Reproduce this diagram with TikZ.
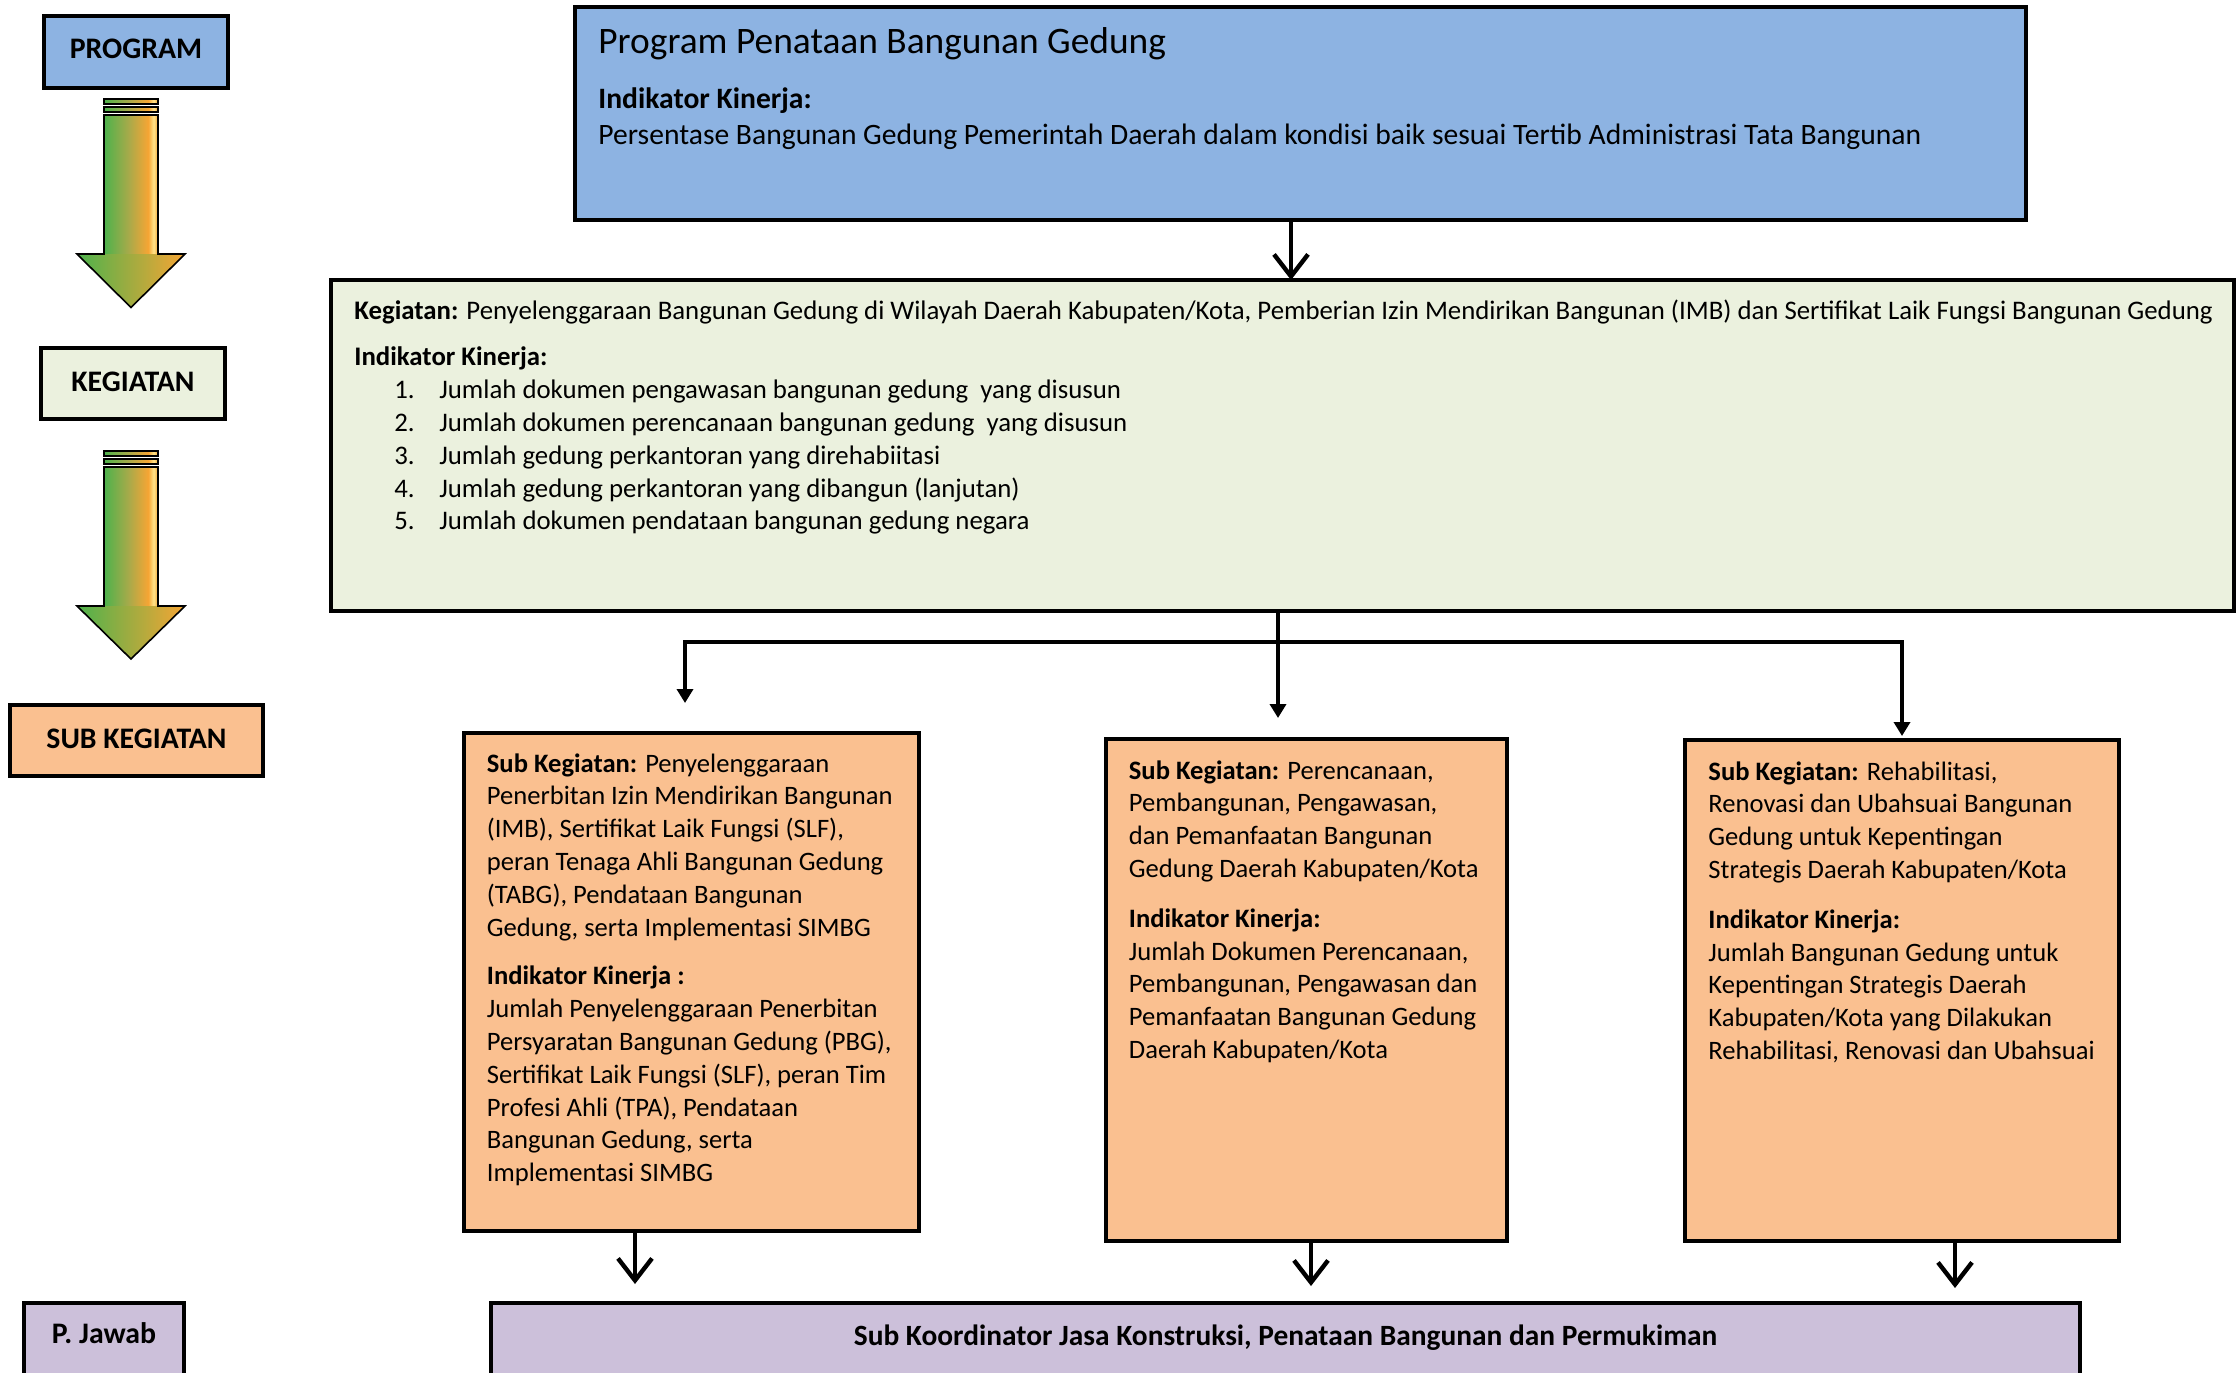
\documentclass[tikz,border=0pt]{standalone}
\usepackage{fontspec}
\setmainfont{Carlito}
\usetikzlibrary{arrows.meta,positioning}
\definecolor{progblue}{HTML}{8DB3E2}
\definecolor{kegcream}{HTML}{EBF1DE}
\definecolor{subpeach}{HTML}{FAC090}
\definecolor{pjlilac}{HTML}{CCC0DA}
\definecolor{arrgreen}{HTML}{4DB24C}
\definecolor{arrolive}{HTML}{A8AA4A}
\definecolor{arrorange}{HTML}{F6A534}
\definecolor{arryellow}{HTML}{FFE38A}
\pgfdeclarehorizontalshading{shaftfade}{100bp}{color(0bp)=(arrgreen); color(25bp)=(arrgreen); color(48bp)=(arrolive); color(66bp)=(arrorange); color(71bp)=(arryellow); color(75bp)=(arrorange); color(100bp)=(arrorange)}

\begin{document}
\begin{tikzpicture}[x=0.5pt,y=-0.5pt,
  box/.style={draw=black,line width=2.2pt,outer sep=0pt},
  lab/.style={box,font=\fontsize{14.9}{17}\selectfont\bfseries},
  txt/.style={anchor=north west,align=left,font=\fontsize{13.3}{16.4}\selectfont},
  flow/.style={line width=2.2pt,-{Straight Barb[length=11pt,width=17pt]}},
  split/.style={line width=1.8pt},
  drop/.style={line width=1.8pt,-{Triangle[length=7pt,width=8pt]}}]
\tikzstyle{every node}+=[inner sep=0pt]
\useasboundingbox (0,0) rectangle (2237,1372);

\node[lab,fill=progblue,minimum width=92pt,minimum height=36pt,text depth=3pt] (prog) at (136,52) {PROGRAM};
\node[lab,fill=kegcream,minimum width=92pt,minimum height=35.5pt,text depth=2pt] (keg) at (133,383.5) {KEGIATAN};
\node[lab,fill=subpeach,minimum width=126.5pt,minimum height=35.5pt,text depth=2pt] (sub) at (136.5,740.5) {SUB KEGIATAN};
\node[lab,fill=pjlilac,minimum width=80pt,anchor=north,text height=20pt,text depth=30pt] (pjawab) at (104,1303) {P. Jawab};

\foreach \top/\neck/\tip in {99/254/307.5, 451/606/659} {
  \shade[shading=shaftfade] (104,\top+16) rectangle (158,\neck);
  \shade[left color=arrgreen,middle color=arrolive,right color=arrorange] (77,\neck) -- (185,\neck) -- (131,\tip) -- cycle;
  \draw[line width=0.8pt] (104,\top+16) -- (104,\neck) -- (77,\neck) -- (131,\tip) -- (185,\neck) -- (158,\neck) -- (158,\top+16) -- cycle;
  \shade[shading=shaftfade,draw=black,line width=0.8pt] (104,\top) rectangle (158,\top+5);
  \shade[shading=shaftfade,draw=black,line width=0.8pt] (104,\top+8) rectangle (158,\top+13);
}

\node[box,fill=progblue,minimum width=725.5pt,minimum height=106.5pt] (progbox) at (1300.5,113.5) {};
\node[txt,font=\fontsize{14.8}{17.8}\selectfont,below right=10pt and 11.5pt of progbox.north west] (progtext) {%
{\fontsize{18.7}{20}\selectfont Program Penataan Bangunan Gedung}\\[10pt]
\textbf{Indikator Kinerja:}\\
Persentase Bangunan Gedung Pemerintah Daerah dalam kondisi baik sesuai Tertib Administrasi Tata Bangunan};

\node[box,fill=kegcream,minimum width=951.5pt,minimum height=165.5pt] (kegbox) at (1282.5,445.5) {};
\node[txt,font=\fontsize{13.4}{16.4}\selectfont,below right=9.5pt and 11.5pt of kegbox.north west] (kegtext) {%
\textbf{Kegiatan:} Penyelenggaraan Bangunan Gedung di Wilayah Daerah Kabupaten/Kota, Pemberian Izin Mendirikan Bangunan (IMB) dan Sertifikat Laik Fungsi Bangunan Gedung\\[7pt]
\textbf{Indikator Kinerja:}\\
\hspace*{20pt}\makebox[22.5pt][l]{1.}Jumlah dokumen pengawasan bangunan gedung\ \ yang disusun\\
\hspace*{20pt}\makebox[22.5pt][l]{2.}Jumlah dokumen perencanaan bangunan gedung\ \ yang disusun\\
\hspace*{20pt}\makebox[22.5pt][l]{3.}Jumlah gedung perkantoran yang direhabiitasi\\
\hspace*{20pt}\makebox[22.5pt][l]{4.}Jumlah gedung perkantoran yang dibangun (lanjutan)\\
\hspace*{20pt}\makebox[22.5pt][l]{5.}Jumlah dokumen pendataan bangunan gedung negara};

\node[box,fill=subpeach,minimum width=227.5pt,minimum height=249pt] (subA) at (691.5,982) {};
\node[txt,below right=10pt and 11.25pt of subA.north west] (subAtext) {%
\textbf{Sub Kegiatan:} Penyelenggaraan\\
Penerbitan Izin Mendirikan Bangunan\\
(IMB), Sertifikat Laik Fungsi (SLF),\\
peran Tenaga Ahli Bangunan Gedung\\
(TABG), Pendataan Bangunan\\
Gedung, serta Implementasi SIMBG\\[8pt]
\textbf{Indikator Kinerja :}\\
Jumlah Penyelenggaraan Penerbitan\\
Persyaratan Bangunan Gedung (PBG),\\
Sertifikat Laik Fungsi (SLF), peran Tim\\
Profesi Ahli (TPA), Pendataan\\
Bangunan Gedung, serta\\
Implementasi SIMBG};

\node[box,fill=subpeach,minimum width=200.5pt,minimum height=251pt] (subB) at (1306.5,990) {};
\node[txt,below right=10.5pt and 11.25pt of subB.north west] (subBtext) {%
\textbf{Sub Kegiatan:} Perencanaan,\\
Pembangunan, Pengawasan,\\
dan Pemanfaatan Bangunan\\
Gedung Daerah Kabupaten/Kota\\[8.5pt]
\textbf{Indikator Kinerja:}\\
Jumlah Dokumen Perencanaan,\\
Pembangunan, Pengawasan dan\\
Pemanfaatan Bangunan Gedung\\
Daerah Kabupaten/Kota};

\node[box,fill=subpeach,minimum width=217pt,minimum height=250.5pt] (subC) at (1902,990.5) {};
\node[txt,below right=10.5pt and 11.5pt of subC.north west] (subCtext) {%
\textbf{Sub Kegiatan:} Rehabilitasi,\\
Renovasi dan Ubahsuai Bangunan\\
Gedung untuk Kepentingan\\
Strategis Daerah Kabupaten/Kota\\[8.5pt]
\textbf{Indikator Kinerja:}\\
Jumlah Bangunan Gedung untuk\\
Kepentingan Strategis Daerah\\
Kabupaten/Kota yang Dilakukan\\
Rehabilitasi, Renovasi dan Ubahsuai};

\node[box,fill=pjlilac,minimum width=794.5pt,anchor=north,text height=21pt,text depth=30pt,font=\fontsize{14.7}{16}\selectfont\bfseries] (botbox) at (1285.5,1303) {Sub Koordinator Jasa Konstruksi, Penataan Bangunan dan Permukiman};

\draw[flow] ([xshift=-4.75pt]progbox.south) -- ([xshift=-4.75pt]progbox.south |- kegbox.north);
\coordinate (fork) at (1278,642);
\draw[split] ([xshift=-2.25pt]kegbox.south) -- (fork);
\draw[drop] (fork) -| ([xshift=-3.25pt,yshift=15pt]subA.north);
\draw[drop] (fork) -- ([yshift=10.5pt]fork |- subB.north);
\draw[drop] (fork) -| ([yshift=2pt]subC.north);
\draw[flow] ([xshift=-28.25pt]subA.south) -- ([xshift=-28.25pt,yshift=9.5pt]subA.south |- botbox.north);
\draw[flow] ([xshift=2.25pt]subB.south) -- ([xshift=2.25pt,yshift=8.5pt]subB.south |- botbox.north);
\draw[flow] ([xshift=26.5pt]subC.south) -- ([xshift=26.5pt,yshift=7.5pt]subC.south |- botbox.north);
\end{tikzpicture}
\end{document}
